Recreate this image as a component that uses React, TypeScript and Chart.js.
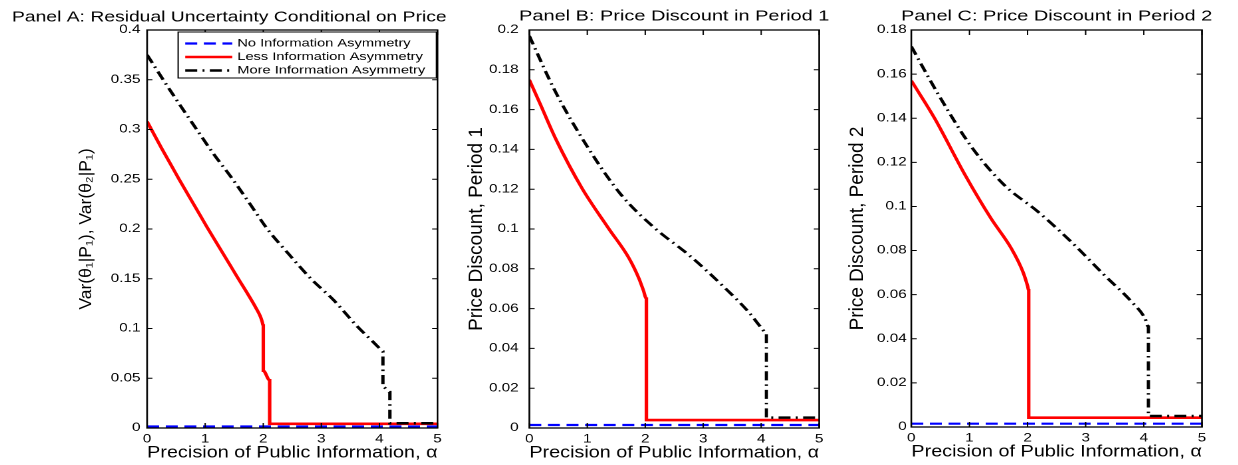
import React, { useEffect, useRef } from "react";
import { Chart, registerables } from "chart.js";

Chart.register(...registerables);

// The reference picture is horizontally stretched; we draw in unstretched
// coordinates and stretch the canvases by S.
const S = 1.33;
const FONT = "'Liberation Sans', Arial, Helvetica, sans-serif";

// ---------- tick labels ----------
const xTicks = [0, 1, 2, 3, 4, 5];
const yTicksA = [0, 0.05, 0.1, 0.15, 0.2, 0.25, 0.3, 0.35, 0.4];
const yTicksB = [0, 0.02, 0.04, 0.06, 0.08, 0.1, 0.12, 0.14, 0.16, 0.18, 0.2];
const yTicksC = [0, 0.02, 0.04, 0.06, 0.08, 0.1, 0.12, 0.14, 0.16, 0.18];

// ---------- series names ----------
const seriesLabels = [
  "No Information Asymmetry",
  "Less Information Asymmetry",
  "More Information Asymmetry",
];

// ---------- Panel A ----------
const aNoneX = [0, 5];
const aNoneY = [0.0015, 0.0015];
const aLessX = [0, 0.25, 0.55, 0.8, 1.03, 1.3, 1.56, 1.75, 1.87, 1.95, 1.98, 2.0, 2.0, 2.11, 2.11, 5];
const aLessY = [0.308, 0.281, 0.25, 0.225, 0.202, 0.176, 0.151, 0.133, 0.121, 0.112, 0.107, 0.103, 0.0576, 0.048, 0.0042, 0.0042];
const aMoreX = [0, 0.4, 0.83, 1.15, 1.46, 1.75, 2.07, 2.45, 2.82, 3.21, 3.62, 3.9, 4.02, 4.06, 4.06, 4.18, 4.18, 5];
const aMoreY = [0.375, 0.339, 0.302, 0.275, 0.251, 0.227, 0.2, 0.174, 0.15, 0.1286, 0.102, 0.086, 0.079, 0.0767, 0.0415, 0.036, 0.0048, 0.0048];

// ---------- Panel B ----------
const bNoneX = [0, 5];
const bNoneY = [0.0015, 0.0015];
const bLessX = [0, 0.2, 0.45, 0.91, 1.37, 1.72, 1.89, 1.97, 2.02, 2.02, 5];
const bLessY = [0.175, 0.162, 0.1456, 0.1204, 0.1002, 0.0853, 0.0752, 0.069, 0.065, 0.004, 0.004];
const bMoreX = [0, 0.45, 1.02, 1.59, 2.17, 2.75, 3.32, 3.78, 4.01, 4.09, 4.09, 5];
const bMoreY = [0.197, 0.169, 0.1405, 0.117, 0.1003, 0.087, 0.0719, 0.0584, 0.0501, 0.0476, 0.0052, 0.0052];

// ---------- Panel C ----------
const cNoneX = [0, 5];
const cNoneY = [0.0015, 0.0015];
const cLessX = [0, 0.4, 0.92, 1.37, 1.72, 1.92, 2.0, 2.02, 2.02, 5];
const cLessY = [0.157, 0.14, 0.1145, 0.0946, 0.081, 0.0704, 0.064, 0.062, 0.0042, 0.0042];
const cMoreX = [0, 0.46, 1.03, 1.6, 2.18, 2.75, 3.32, 3.79, 4.02, 4.08, 4.08, 5];
const cMoreY = [0.1725, 0.151, 0.1272, 0.1097, 0.0976, 0.084, 0.0689, 0.0568, 0.0493, 0.0455, 0.005, 0.005];

const lineStyles = [
  { color: "#0000ff", width: 2.2, dash: [9, 5], order: 2 },
  { color: "#ff0000", width: 2.6, dash: [] as number[], order: 1 },
  { color: "#000000", width: 2.5, dash: [9, 4, 1.5, 4], order: 0 },
];

const zip = (xs: number[], ys: number[]) => xs.map((x, i) => ({ x, y: ys[i] }));
const fmt = (v: number) => String(Math.round(Number(v) * 1000) / 1000);

type PanelDef = {
  key: string;
  left: number; // unstretched canvas left
  width: number; // unstretched canvas width
  plotLeft: number;
  plotRight: number;
  padBottom: number;
  yMax: number;
  yTicks: number[];
  yTickPad: number;
  series: { x: number[]; y: number[] }[];
  title: string;
  titleSize: number;
  titleAlign: "left" | "center";
  titleX: number;
  titleY: number;
  yTitle: string;
  yTitleSize: number;
  yTitleX: number;
  legend: boolean;
};

const Y_AXIS_W = 40;

const panels: PanelDef[] = [
  {
    key: "A",
    left: 0,
    width: 350,
    plotLeft: 110.5,
    plotRight: 328.6,
    padBottom: 0,
    yMax: 0.4,
    yTicks: yTicksA,
    yTickPad: 5,
    series: [
      { x: aNoneX, y: aNoneY },
      { x: aLessX, y: aLessY },
      { x: aMoreX, y: aMoreY },
    ],
    title: "Panel A: Residual Uncertainty Conditional on Price",
    titleSize: 14.5,
    titleAlign: "left",
    titleX: 9,
    titleY: 21.5,
    yTitle: "Var(θ₁|P₁), Var(θ₂|P₁)",
    yTitleSize: 17.5,
    yTitleX: 64.7,
    legend: true,
  },
  {
    key: "B",
    left: 335,
    width: 295,
    plotLeft: 397.7,
    plotRight: 615.8,
    padBottom: 0,
    yMax: 0.2,
    yTicks: yTicksB,
    yTickPad: 8,
    series: [
      { x: bNoneX, y: bNoneY },
      { x: bLessX, y: bLessY },
      { x: bMoreX, y: bMoreY },
    ],
    title: "Panel B: Price Discount in Period 1",
    titleSize: 15,
    titleAlign: "center",
    titleX: 0,
    titleY: 20.5,
    yTitle: "Price Discount, Period 1",
    yTitleSize: 19,
    yTitleX: 22.9,
    legend: false,
  },
  {
    key: "C",
    left: 620,
    width: 311,
    plotLeft: 685.0,
    plotRight: 903.8,
    padBottom: 1,
    yMax: 0.18,
    yTicks: yTicksC,
    yTickPad: 3.5,
    series: [
      { x: cNoneX, y: cNoneY },
      { x: cLessX, y: cLessY },
      { x: cMoreX, y: cMoreY },
    ],
    title: "Panel C: Price Discount in Period 2",
    titleSize: 15,
    titleAlign: "center",
    titleX: 0,
    titleY: 20.5,
    yTitle: "Price Discount, Period 2",
    yTitleSize: 19,
    yTitleX: 24.7,
    legend: false,
  },
];

const decorPlugin = {
  id: "decor",
  afterDatasetsDraw(chart: any, _args: any, opts: any) {
    const { ctx, chartArea: ca, scales } = chart;
    ctx.save();
    // frame
    ctx.strokeStyle = "#000";
    ctx.lineWidth = 1.3;
    ctx.strokeRect(ca.left, ca.top, ca.right - ca.left, ca.bottom - ca.top);
    // inward ticks on all four sides
    ctx.lineWidth = 1;
    ctx.beginPath();
    for (const t of scales.x.ticks) {
      const px = scales.x.getPixelForValue(t.value);
      ctx.moveTo(px, ca.bottom);
      ctx.lineTo(px, ca.bottom - 5);
      ctx.moveTo(px, ca.top);
      ctx.lineTo(px, ca.top + 5);
    }
    for (const t of scales.y.ticks) {
      const py = scales.y.getPixelForValue(t.value);
      ctx.moveTo(ca.left, py);
      ctx.lineTo(ca.left + 4, py);
      ctx.moveTo(ca.right, py);
      ctx.lineTo(ca.right - 4, py);
    }
    ctx.stroke();

    // panel title
    ctx.fillStyle = "#000";
    ctx.font = `${opts.titleSize}px ${FONT}`;
    ctx.textBaseline = "alphabetic";
    if (opts.titleAlign === "left") {
      ctx.textAlign = "left";
      ctx.fillText(opts.title, opts.titleX, opts.titleY);
    } else {
      ctx.textAlign = "center";
      ctx.fillText(opts.title, (ca.left + ca.right) / 2, opts.titleY);
    }

    // rotated y title (compensated for the horizontal stretch)
    ctx.save();
    ctx.translate(opts.yTitleX, (ca.top + ca.bottom) / 2);
    ctx.rotate(-Math.PI / 2);
    ctx.scale(1, 1 / S);
    ctx.font = `${opts.yTitleSize}px ${FONT}`;
    ctx.textAlign = "center";
    ctx.textBaseline = "middle";
    ctx.fillText(opts.yTitle, 0, 0);
    ctx.restore();

    // legend
    if (opts.legend) {
      const w = 194;
      const h = 46;
      const lx = ca.right - 0.8 - w;
      const ly = ca.top + 2;
      ctx.fillStyle = "#fff";
      ctx.fillRect(lx, ly, w, h);
      ctx.strokeStyle = "#000";
      ctx.lineWidth = 1;
      ctx.strokeRect(lx, ly, w, h);
      ctx.font = `11px ${FONT}`;
      ctx.textAlign = "left";
      ctx.textBaseline = "middle";
      chart.data.datasets.forEach((ds: any, i: number) => {
        const y = ly + 11.5 + i * 13.5;
        ctx.save();
        ctx.strokeStyle = ds.borderColor;
        ctx.lineWidth = ds.borderWidth;
        ctx.setLineDash(ds.borderDash || []);
        ctx.beginPath();
        ctx.moveTo(lx + 5.3, y);
        ctx.lineTo(lx + 40.6, y);
        ctx.stroke();
        ctx.restore();
        ctx.fillStyle = "#000";
        ctx.fillText(ds.label, lx + 44.4, y);
      });
    }
    ctx.restore();
  },
};

function Panel({ p }: { p: PanelDef }) {
  const ref = useRef<HTMLCanvasElement | null>(null);
  useEffect(() => {
    if (!ref.current) return;
    const padLeft = p.plotLeft - p.left - Y_AXIS_W;
    const padRight = p.left + p.width - p.plotRight;
    const chart = new Chart(ref.current, {
      type: "line",
      data: {
        datasets: p.series.map((s, i) => ({
          label: seriesLabels[i],
          data: zip(s.x, s.y),
          borderColor: lineStyles[i].color,
          borderWidth: lineStyles[i].width,
          borderDash: lineStyles[i].dash,
          order: lineStyles[i].order,
          pointRadius: 0,
          fill: false,
          cubicInterpolationMode: "monotone",
        })),
      },
      options: {
        animation: false,
        responsive: false,
        devicePixelRatio: 2,
        events: [],
        layout: { padding: { left: padLeft, right: padRight, top: 30, bottom: p.padBottom } },
        plugins: {
          legend: { display: false },
          tooltip: { enabled: false },
          title: { display: false },
          decor: {
            title: p.title,
            titleSize: p.titleSize,
            titleAlign: p.titleAlign,
            titleX: p.titleX,
            titleY: p.titleY,
            yTitle: p.yTitle,
            yTitleSize: p.yTitleSize,
            yTitleX: p.yTitleX,
            legend: p.legend,
          },
        } as any,
        scales: {
          x: {
            type: "linear",
            min: 0,
            max: 5,
            afterBuildTicks: (s: any) => {
              s.ticks = xTicks.map((v) => ({ value: v }));
            },
            afterFit: (s: any) => {
              s.height = 37;
            },
            grid: { display: false, drawTicks: false },
            border: { display: false },
            ticks: {
              color: "#000",
              font: { family: FONT, size: 11.5 },
              padding: 4.5,
              maxRotation: 0,
              autoSkip: false,
              callback: (v: any) => fmt(v),
            },
            title: {
              display: true,
              text: "Precision of Public Information, α",
              color: "#000",
              font: { family: FONT, size: 16.5 },
              padding: { top: 0, bottom: 2 },
            },
          },
          y: {
            type: "linear",
            min: 0,
            max: p.yMax,
            afterBuildTicks: (s: any) => {
              s.ticks = p.yTicks.map((v) => ({ value: v }));
            },
            afterFit: (s: any) => {
              s.width = Y_AXIS_W;
            },
            grid: { display: false, drawTicks: false },
            border: { display: false },
            ticks: {
              color: "#000",
              font: { family: FONT, size: 11.5 },
              padding: p.yTickPad,
              autoSkip: false,
              callback: (v: any) => fmt(v),
            },
          },
        } as any,
      },
      plugins: [decorPlugin as any],
    });
    return () => chart.destroy();
  }, [p]);

  return (
    <canvas
      ref={ref}
      width={p.width}
      height={465}
      style={{
        position: "absolute",
        left: p.left * S,
        top: 0,
        width: p.width * S,
        height: 465,
      }}
    />
  );
}

export default function App() {
  return (
    <div
      style={{
        position: "fixed",
        left: 0,
        top: 0,
        width: 1238,
        height: 465,
        background: "#fff",
        overflow: "hidden",
      }}
    >
      {panels.map((p) => (
        <Panel key={p.key} p={p} />
      ))}
    </div>
  );
}
